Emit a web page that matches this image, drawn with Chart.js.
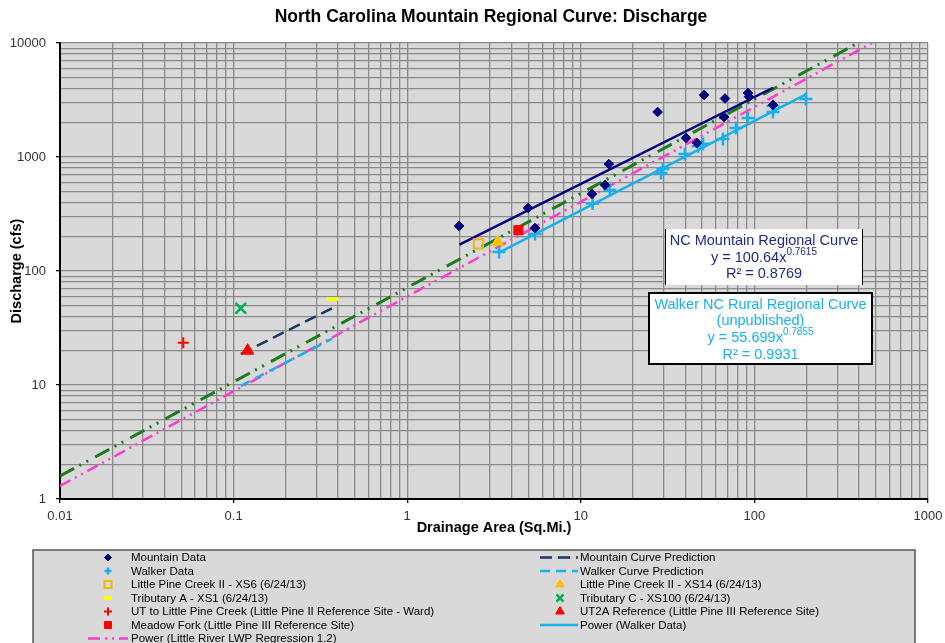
<!DOCTYPE html>
<html>
<head>
<meta charset="utf-8">
<script src="https://cdn.jsdelivr.net/npm/chart.js@4.4.0/dist/chart.umd.min.js"></script>
<style>
  html, body { margin: 0; padding: 0; background: #fff; }
  #wrap { width: 945px; height: 643px; position: relative; overflow: hidden; }
</style>
</head>
<body>
<div id="wrap"><canvas id="chart" width="945" height="643"></canvas></div>
<script>
// Axis tick labels (decades only)
const xTickLabels = ['0.01', '0.1', '1', '10', '100', '1000'];
const yTickLabels = ['1', '10', '100', '1000', '10000'];

// Mountain gauge data: drainage area (sq mi) and bankfull discharge (cfs)
const mountainArea = [1.99, 4.97, 5.45, 11.6, 13.8, 14.5, 27.7, 40.4, 46.7, 51.3, 67.7, 66.9, 91.8, 93.1, 128];
const mountainQ    = [248, 357, 238, 474, 568, 868, 2480, 1470, 1330, 3500, 3260, 2240, 3640, 3380, 2860];

// Walker rural gauge data
const walkerArea = [3.38, 5.45, 11.7, 14.7, 29.0, 29.7, 39.8, 47.4, 50.6, 65.9, 78.3, 91.8, 128, 128, 198];
const walkerQ    = [147, 211, 391, 514, 724, 785, 1060, 1245, 1310, 1440, 1800, 2200, 2800, 2480, 3230];

// Project survey sites
const xs6Area = [2.57],   xs6Q = [173];
const xs14Area = [3.32],  xs14Q = [179];
const tribAArea = [0.372], tribAQ = [56.8];
const tribCArea = [0.110], tribCQ = [47.1];
const utLpcArea = [0.0513], utLpcQ = [23.5];
const ut2aArea = [0.1205], ut2aQ = [20.0];
const meadowArea = [4.37], meadowQ = [228];

// Curve predictions at the small project sites
const predArea = [0.11, 0.12, 0.37];
const mountainPredQ = [18.7, 20.0, 47.2];
const walkerPredQ = [9.84, 10.53, 25.5];

// Fitted power curves (end points of each straight log-log segment)
const mountainFitArea = [2.0, 128];
const mountainFitQ = [170.6, 4050];
const walkerFitArea = [3.38, 198];
const walkerFitQ = [145.0, 3548];
const lrFitArea = [0.01, 480];
const lrFitQ = [1.30, 10100];
const regionalFitArea = [0.01, 400];
const regionalFitQ = [1.59, 10100];

const pts = (xs, ys) => xs.map((x, i) => ({ x: x, y: ys[i] }));

const NAVY = '#000080';
const NAVY_DASH = '#1b3768';
const SKY = '#18b0ee';
const PINK = '#ff3ccc';
const GREEN = '#1d7a1d';

function pointSet(label, xs, ys, style, color, fill, radius, bw, legendRadius) {
  return {
    label: label, data: pts(xs, ys), showLine: false,
    pointStyle: style, pointRadius: radius, pointHoverRadius: radius,
    borderColor: color, backgroundColor: fill, pointBorderColor: color, pointBackgroundColor: fill,
    borderWidth: bw, pointBorderWidth: bw, legendRadius: legendRadius
  };
}
function lineSet(label, xs, ys, color, width, dash) {
  return {
    label: label, data: pts(xs, ys), showLine: true, pointRadius: 0, pointHoverRadius: 0,
    borderColor: color, backgroundColor: color, borderWidth: width, borderDash: dash || [],
    tension: 0, fill: false
  };
}

const datasets = [
  pointSet('Mountain Data', mountainArea, mountainQ, 'rectRot', NAVY, NAVY, 4.8, 1, 3.5),
  pointSet('Walker Data', walkerArea, walkerQ, 'cross', SKY, SKY, 6.5, 2.5, 3.5),
  pointSet('Little Pine Creek II - XS6 (6/24/13)', xs6Area, xs6Q, 'rect', '#f5b400', 'rgba(0,0,0,0)', 6.4, 2, 5),
  pointSet('Little Pine Creek II - XS14 (6/24/13)', xs14Area, xs14Q, 'triangle', '#ffc000', '#ffc000', 7, 1, 5),
  pointSet('Tributary A - XS1 (6/24/13)', tribAArea, tribAQ, 'line', '#ffff00', '#ffff00', 6, 4, 4),
  pointSet('Tributary C - XS100 (6/24/13)', tribCArea, tribCQ, 'crossRot', '#00b050', '#00b050', 7.5, 2.5, 5),
  pointSet('UT to Little Pine Creek (Little Pine II Reference Site - Ward)', utLpcArea, utLpcQ, 'cross', '#ff0000', '#ff0000', 5.5, 2, 4),
  pointSet('UT2A Reference (Little Pine III Reference Site)', ut2aArea, ut2aQ, 'triangle', '#ff0000', '#ff0000', 7, 1, 5),
  pointSet('Meadow Fork (Little Pine III Reference Site)', meadowArea, meadowQ, 'rect', '#ff0000', '#ff0000', 6.4, 1, 5),
  lineSet('Mountain Curve Prediction', predArea, mountainPredQ, NAVY_DASH, 2.5, [12, 6]),
  lineSet('Walker Curve Prediction', predArea, walkerPredQ, SKY, 2.5, [10, 6]),
  lineSet('Power (Mountain Data)', mountainFitArea, mountainFitQ, NAVY, 2.5),
  lineSet('Power (Walker Data)', walkerFitArea, walkerFitQ, SKY, 2.5),
  lineSet('Power (Little River LWP Regression 1.2)', lrFitArea, lrFitQ, PINK, 2.5, [12, 5, 2, 5, 2, 5]),
  lineSet('Power (Regional Regression)', regionalFitArea, regionalFitQ, GREEN, 3, [16, 6, 2, 6, 2, 8])
];

// Legend layout: two columns of dataset labels
const legendCol1 = ['Mountain Data', 'Walker Data', 'Little Pine Creek II - XS6 (6/24/13)',
  'Tributary A - XS1 (6/24/13)', 'UT to Little Pine Creek (Little Pine II Reference Site - Ward)',
  'Meadow Fork (Little Pine III Reference Site)', 'Power (Little River LWP Regression 1.2)'];
const legendCol2 = ['Mountain Curve Prediction', 'Walker Curve Prediction', 'Little Pine Creek II - XS14 (6/24/13)',
  'Tributary C - XS100 (6/24/13)', 'UT2A Reference (Little Pine III Reference Site)', 'Power (Walker Data)'];

function decadeTicks(lo, hi) {
  const out = [];
  for (let e = lo; e < hi; e++) {
    for (let m = 1; m < 10; m++) out.push({ value: +(m * Math.pow(10, e)).toPrecision(6) });
  }
  out.push({ value: Math.pow(10, hi) });
  return out;
}
function decadeIndex(v) {
  const lg = Math.log10(v);
  const r = Math.round(lg);
  return Math.abs(lg - r) < 1e-6 ? r : null;
}

const FONT = "'Liberation Sans', Arial, sans-serif";

const plotBackground = {
  id: 'plotBackground',
  beforeDraw(chart) {
    const { ctx, chartArea: a } = chart;
    ctx.save();
    ctx.fillStyle = '#ffffff';
    ctx.fillRect(0, 0, chart.width, chart.height);
    ctx.fillStyle = '#d9d9d9';
    ctx.fillRect(a.left, a.top, a.right - a.left, a.bottom - a.top);
    ctx.restore();
  }
};

function drawSymbol(ctx, ds, x, y, x0, x1) {
  ctx.save();
  if (ds.showLine) {
    ctx.strokeStyle = ds.borderColor;
    ctx.lineWidth = ds.borderWidth;
    ctx.setLineDash(ds.borderDash || []);
    ctx.beginPath();
    ctx.moveTo(x0, y);
    ctx.lineTo(x1, y);
    ctx.stroke();
  } else {
    ctx.fillStyle = ds.backgroundColor;
    ctx.strokeStyle = ds.borderColor;
    ctx.lineWidth = ds.borderWidth;
    Chart.helpers.drawPoint(ctx, { pointStyle: ds.pointStyle, radius: ds.legendRadius, borderWidth: ds.borderWidth, rotation: 0 }, x, y);
  }
  ctx.restore();
}

function drawEquation(ctx, cx, y, base, exp, size, supSize) {
  ctx.font = size + 'px ' + FONT;
  const wb = ctx.measureText(base).width;
  ctx.font = supSize + 'px ' + FONT;
  const we = ctx.measureText(exp).width;
  const x0 = cx - (wb + we) / 2;
  ctx.textAlign = 'left';
  ctx.font = size + 'px ' + FONT;
  ctx.fillText(base, x0, y);
  ctx.font = supSize + 'px ' + FONT;
  ctx.fillText(exp, x0 + wb, y - size * 0.38);
}

const chartText = {
  id: 'chartText',
  afterDraw(chart) {
    const ctx = chart.ctx;
    const a = chart.chartArea;
    ctx.save();
    ctx.textBaseline = 'middle';
    ctx.fillStyle = '#000';
    // Title
    ctx.textAlign = 'center';
    ctx.font = 'bold 17.5px ' + FONT;
    ctx.fillText('North Carolina Mountain Regional Curve: Discharge', 491, 17);
    // Axis titles
    ctx.font = 'bold 14.5px ' + FONT;
    ctx.fillText('Drainage Area (Sq.Mi.)', (a.left + a.right) / 2, 528);
    ctx.save();
    ctx.translate(17, (a.top + a.bottom) / 2);
    ctx.rotate(-Math.PI / 2);
    ctx.fillText('Discharge (cfs)', 0, 0);
    ctx.restore();

    // Mountain curve equation box
    ctx.fillStyle = '#ffffff';
    ctx.fillRect(665, 229, 198, 56);
    ctx.strokeStyle = '#000';
    ctx.lineWidth = 1;
    ctx.beginPath();
    ctx.moveTo(665.5, 229); ctx.lineTo(665.5, 285);
    ctx.moveTo(862.5, 229); ctx.lineTo(862.5, 285);
    ctx.stroke();
    ctx.fillStyle = '#1f2a8a';
    ctx.textAlign = 'center';
    ctx.font = '14.5px ' + FONT;
    ctx.fillText('NC Mountain Regional Curve', 764, 241);
    drawEquation(ctx, 764, 258, 'y = 100.64x', '0.7615', 14.5, 10);
    ctx.textAlign = 'center';
    ctx.font = '14.5px ' + FONT;
    ctx.fillText('R\u00b2 = 0.8769', 764, 274);

    // Walker curve equation box
    ctx.fillStyle = '#ffffff';
    ctx.fillRect(649, 293, 223, 71);
    ctx.strokeStyle = '#000';
    ctx.lineWidth = 2;
    ctx.strokeRect(649, 293, 223, 71);
    ctx.fillStyle = SKY;
    ctx.font = '14.5px ' + FONT;
    ctx.fillText('Walker NC Rural Regional Curve', 760.5, 305);
    ctx.fillText('(unpublished)', 760.5, 321);
    drawEquation(ctx, 760.5, 338, 'y = 55.699x', '0.7855', 14.5, 10);
    ctx.textAlign = 'center';
    ctx.font = '14.5px ' + FONT;
    ctx.fillText('R\u00b2 = 0.9931', 760.5, 355);

    // Legend box
    ctx.fillStyle = '#d9d9d9';
    ctx.fillRect(33, 550, 882, 120);
    ctx.strokeStyle = '#555';
    ctx.lineWidth = 1.5;
    ctx.strokeRect(33, 550, 882, 120);
    const byLabel = {};
    chart.data.datasets.forEach(d => { byLabel[d.label] = d; });
    ctx.font = '11.5px ' + FONT;
    ctx.textAlign = 'left';
    const rowY = i => 557.5 + 13.5 * i;
    legendCol1.forEach((lab, i) => {
      const ds = byLabel[lab];
      drawSymbol(ctx, ds, 108, rowY(i), 88, 128);
      ctx.fillStyle = '#000';
      ctx.fillText(lab, 131, rowY(i) + 0.5);
    });
    legendCol2.forEach((lab, i) => {
      const ds = byLabel[lab];
      drawSymbol(ctx, ds, 560, rowY(i), 540, 578);
      ctx.fillStyle = '#000';
      ctx.fillText(lab, 580, rowY(i) + 0.5);
    });
    ctx.restore();
  }
};

const gridStyle = {
  color: '#8a8a8a',
  lineWidth: 1.3,
  drawTicks: true,
  tickLength: 4,
  tickColor: c => (c.tick && decadeIndex(c.tick.value) !== null) ? '#000' : 'rgba(0,0,0,0)'
};

new Chart(document.getElementById('chart'), {
  type: 'scatter',
  data: { datasets: datasets },
  options: {
    responsive: false,
    animation: false,
    devicePixelRatio: 1,
    layout: { padding: { left: 0, right: 17, top: 43, bottom: 103 } },
    plugins: { legend: { display: false }, tooltip: { enabled: false }, title: { display: false } },
    elements: { line: { tension: 0 } },
    scales: {
      x: {
        type: 'logarithmic', position: 'bottom', min: 0.01, max: 1000,
        afterBuildTicks: s => { s.ticks = decadeTicks(-2, 3); },
        afterFit: s => { s.height = 41; s.paddingLeft = 0; s.paddingRight = 0; },
        ticks: {
          autoSkip: false, maxRotation: 0, padding: 6, color: '#333',
          font: { family: FONT, size: 13 },
          callback: v => { const r = decadeIndex(v); return r === null ? '' : xTickLabels[r + 2]; }
        },
        grid: gridStyle,
        border: { color: '#000', width: 2 }
      },
      y: {
        type: 'logarithmic', position: 'left', min: 1, max: 10000,
        afterBuildTicks: s => { s.ticks = decadeTicks(0, 4); },
        afterFit: s => { s.width = 60; s.paddingTop = 0; s.paddingBottom = 0; },
        ticks: {
          autoSkip: false, padding: 10, color: '#333',
          font: { family: FONT, size: 13 },
          callback: v => { const r = decadeIndex(v); return r === null ? '' : yTickLabels[r]; }
        },
        grid: gridStyle,
        border: { color: '#000', width: 2 }
      }
    }
  },
  plugins: [plotBackground, chartText]
});
</script>
</body>
</html>
